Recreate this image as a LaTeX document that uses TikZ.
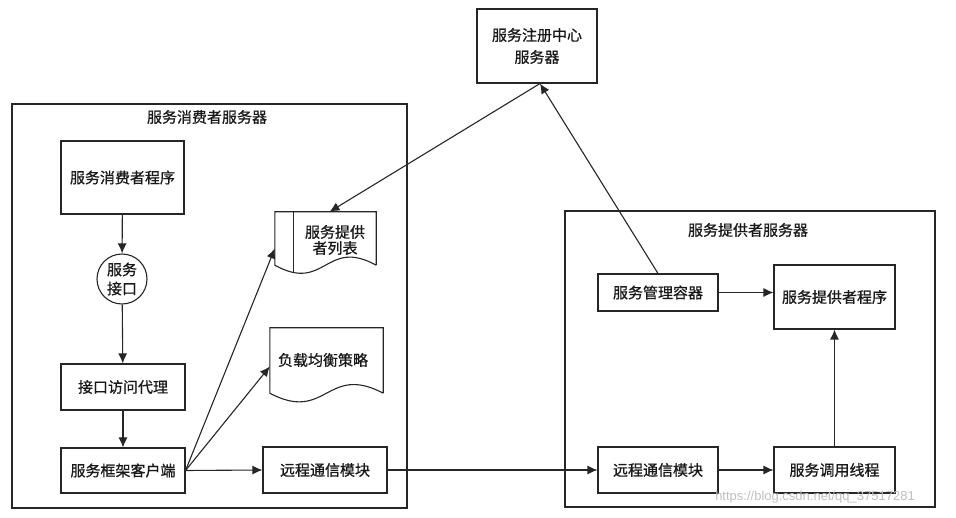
\documentclass[tikz,border=0pt]{standalone}
\usepackage{fontspec}
\setmainfont{Noto Sans CJK SC}[FakeBold=0.8]
\newfontfamily\wmfont{Liberation Sans}
\usetikzlibrary{arrows.meta,calc}
\begin{document}
\begin{tikzpicture}[x=1pt,y=-1pt,
  every node/.style={font=\fontsize{15}{18}\selectfont, text=black!90},
  box/.style={draw=black!85, line width=1.1pt, inner sep=0pt, align=center},
  frame/.style={draw=black!85, line width=1.1pt, inner sep=0pt},
  docarea/.style={inner sep=0pt},
  docline/.style={draw=black!85, line width=1.1pt},
  conn/.style={draw=black!85, line width=1.1pt, -{Latex[length=10pt,width=9pt]}}]
\useasboundingbox[fill=white] (0,0) rectangle (956,518);

% outer frames
\node[frame, minimum width=395pt, minimum height=404pt] (consumer) at (209.5,306) {};
\node (ctitle) at (207,117) {服务消费者服务器};
\node[frame, minimum width=370pt, minimum height=296pt] (provider) at (750,359) {};
\node (ptitle) at (748,230) {服务提供者服务器};

% registry
\node[box, minimum width=120pt, minimum height=74pt, font=\fontsize{15}{22}\selectfont] (reg) at (537,46) {服务注册中心\\服务器};

% consumer side
\node[box, minimum width=123pt, minimum height=73pt] (prog) at (122.5,177.5) {服务消费者程序};
\node[box, circle, minimum size=50pt, font=\fontsize{15}{19}\selectfont] (iface) at (122,279) {服务\\接口};
\node[box, minimum width=124pt, minimum height=46pt] (proxy) at (123,387) {接口访问代理};
\node[box, minimum width=124pt, minimum height=45pt] (client) at (123,470.5) {服务框架客户端};
\node[box, minimum width=124pt, minimum height=46pt] (rcomL) at (325,470) {远程通信模块};

% provider list document
\node[docarea, minimum width=101pt, minimum height=53pt] (list) at (325.5,238.5) {};
\draw[docline] (list.south east) -- (list.north east) -- (list.north west) -- (list.south west)
  .. controls ($(list.south)+(0,28)$) and ($(list.south)+(0,-28)$) .. (list.south east);
\draw[docline] ($(list.north west)+(19,0)$) -- ($(list.south west)+(19,7)$);
\node[align=center, font=\fontsize{15}{16}\selectfont] (listtxt) at (335,240) {服务提供\\者列表};

% load balance document
\node[docarea, minimum width=113pt, minimum height=65pt] (lb) at (326.5,360.5) {};
\draw[docline] (lb.south east) -- (lb.north east) -- (lb.north west) -- (lb.south west)
  .. controls ($(lb.south)+(0,30)$) and ($(lb.south)+(0,-30)$) .. (lb.south east);
\node (lbtxt) at (323,360) {负载均衡策略};

% provider side
\node[box, minimum width=120pt, minimum height=37pt] (mgr) at (658,292.5) {服务管理容器};
\node[box, minimum width=121pt, minimum height=64pt] (prov) at (834.5,297) {服务提供者程序};
\node[box, minimum width=120pt, minimum height=46pt] (rcomR) at (658,470) {远程通信模块};
\node[box, minimum width=121pt, minimum height=46pt] (call) at (834.5,470) {服务调用线程};

% connectors
\draw[conn] (prog) -- (iface);
\draw[conn] (iface) -- (proxy);
\draw[conn] (proxy) -- (client);
\draw[conn] (client.east) -- ($(list.west)+(0,10)$);
\draw[conn] (client.east) -- ($(lb.west)+(0,6)$);
\draw[conn] (client.east) -- (rcomL.west);
\draw[conn] (rcomL.east) -- (rcomR.west);
\draw[conn] ($(reg.south)+(3,0)$) -- ($(list.north)+(4,0)$);
\draw[conn] (mgr.north) -- ($(reg.south)+(3,0)$);
\draw[conn] (mgr.east) -- (mgr.east -| prov.west);
\draw[conn] (rcomR.east) -- (call.west);
\draw[conn] (call.north) -- (prov.south);

% watermark
\node[font=\wmfont\fontsize{13}{13}\selectfont, text=black!25] (wm) at (815,497) {https://blog.csdn.net/qq\_37517281};
\end{tikzpicture}
\end{document}
